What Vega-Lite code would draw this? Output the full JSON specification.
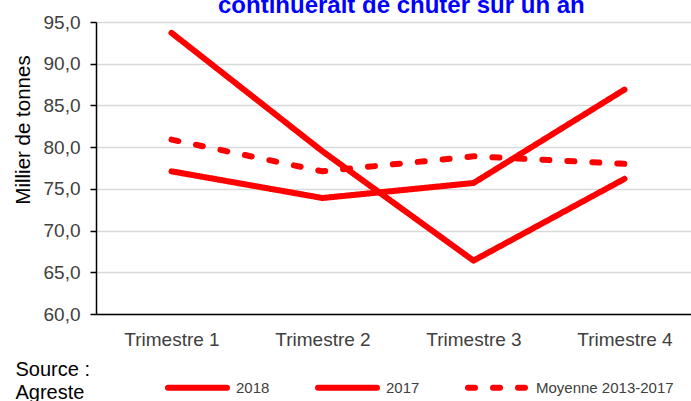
{
  "$schema": "https://vega.github.io/schema/vega-lite/v6.json",
  "autosize": {"type": "none"},
  "width": 595,
  "height": 292,
  "padding": {"left": 96, "top": 22, "right": 0, "bottom": 87},
  "background": "white",
  "title": {
    "text": "continuerait de chuter sur un an",
    "anchor": "start",
    "frame": "group",
    "dx": 122,
    "dy": 23,
    "offset": -1,
    "baseline": "alphabetic",
    "fontSize": 24,
    "fontWeight": "bold",
    "color": "#0000ff",
    "font": "Liberation Sans"
  },
  "data": {
    "values": [
      {"trimestre": "Trimestre 1", "serie": "2017", "valeur": 93.7},
      {"trimestre": "Trimestre 2", "serie": "2017", "valeur": 79.5},
      {"trimestre": "Trimestre 3", "serie": "2017", "valeur": 66.4},
      {"trimestre": "Trimestre 4", "serie": "2017", "valeur": 76.2},
      {"trimestre": "Trimestre 1", "serie": "2018", "valeur": 77.1},
      {"trimestre": "Trimestre 2", "serie": "2018", "valeur": 73.9},
      {"trimestre": "Trimestre 3", "serie": "2018", "valeur": 75.7},
      {"trimestre": "Trimestre 4", "serie": "2018", "valeur": 86.9},
      {"trimestre": "Trimestre 1", "serie": "Moyenne 2013-2017", "valeur": 80.9},
      {"trimestre": "Trimestre 2", "serie": "Moyenne 2013-2017", "valeur": 77.1},
      {"trimestre": "Trimestre 3", "serie": "Moyenne 2013-2017", "valeur": 78.9},
      {"trimestre": "Trimestre 4", "serie": "Moyenne 2013-2017", "valeur": 78.0}
    ]
  },
  "mark": {"type": "line", "strokeWidth": 6, "strokeCap": "round", "strokeJoin": "round"},
  "encoding": {
    "x": {
      "field": "trimestre",
      "type": "ordinal",
      "sort": ["Trimestre 1", "Trimestre 2", "Trimestre 3", "Trimestre 4"],
      "scale": {"range": [0, 604], "padding": 0.5},
      "axis": {
        "grid": false,
        "ticks": false,
        "domainColor": "#000000",
        "domainWidth": 1.5,
        "labelFontSize": 19,
        "labelColor": "#404040",
        "labelPadding": 16,
        "labelAngle": 0,
        "title": ["Source :", "Agreste"],
        "titleX": -81,
        "titleY": 61,
        "titleAlign": "left",
        "titleBaseline": "alphabetic",
        "titleFontSize": 20,
        "titleFontWeight": "normal",
        "titleColor": "#000000",
        "titleLineHeight": 23
      }
    },
    "y": {
      "field": "valeur",
      "type": "quantitative",
      "scale": {"domain": [60, 95], "nice": false, "zero": false},
      "axis": {
        "values": [60, 65, 70, 75, 80, 85, 90, 95],
        "labelExpr": "replace(format(datum.value, '.1f'), '.', ',')",
        "labelFontSize": 19,
        "labelColor": "#404040",
        "labelPadding": 10,
        "tickSize": 6,
        "tickColor": "#000000",
        "tickWidth": 1.5,
        "domainColor": "#000000",
        "domainWidth": 1.5,
        "gridColor": "#d9d9d9",
        "gridWidth": 1.5,
        "title": "Millier  de tonnes",
        "titleFontSize": 20.5,
        "titleFontWeight": "normal",
        "titleColor": "#000000",
        "titleAngle": 270,
        "titleX": -73,
        "titleY": 107.5,
        "titleAlign": "center",
        "titleBaseline": "middle"
      }
    },
    "color": {
      "field": "serie",
      "type": "nominal",
      "scale": {
        "domain": ["2018", "2017", "Moyenne 2013-2017"],
        "range": ["#ff0000", "#ff0000", "#ff0000"]
      },
      "legend": {
        "orient": "none",
        "legendX": 69,
        "legendY": 333,
        "direction": "horizontal",
        "columns": 3,
        "title": null,
        "symbolType": "stroke",
        "symbolSize": 3481,
        "symbolStrokeWidth": 6,
        "labelFontSize": 15,
        "labelColor": "#404040",
        "labelOffset": 6,
        "columnPadding": 36,
        "padding": 0,
        "encode": {"symbols": {"update": {"strokeCap": {"value": "round"}}}}
      }
    },
    "strokeDash": {
      "field": "serie",
      "type": "nominal",
      "scale": {
        "domain": ["2018", "2017", "Moyenne 2013-2017"],
        "range": [[1, 0], [1, 0], [7, 18]]
      },
      "legend": {
        "orient": "none",
        "legendX": 69,
        "legendY": 333,
        "direction": "horizontal",
        "columns": 3,
        "title": null,
        "symbolType": "stroke",
        "symbolSize": 3481,
        "symbolStrokeWidth": 6,
        "labelFontSize": 15,
        "labelColor": "#404040",
        "labelOffset": 6,
        "columnPadding": 36,
        "padding": 0,
        "encode": {"symbols": {"update": {"strokeCap": {"value": "round"}}}}
      }
    }
  },
  "config": {
    "font": "Liberation Sans",
    "view": {"stroke": null}
  }
}
